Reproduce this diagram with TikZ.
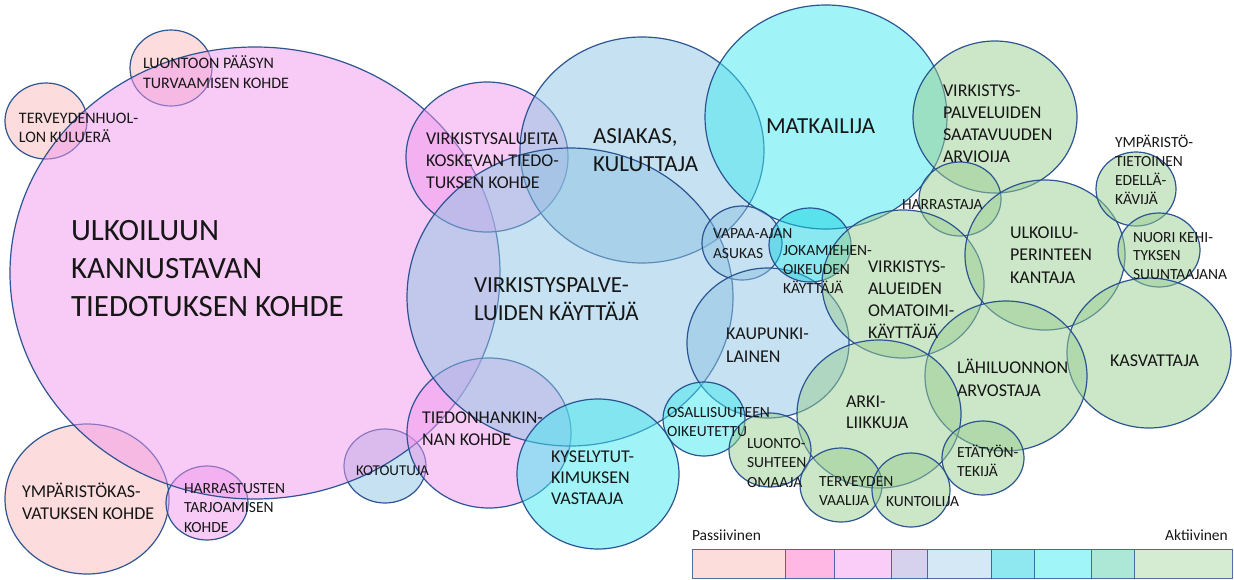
\documentclass[tikz,border=0pt]{standalone}
\usepackage{fontspec}
\setmainfont{Carlito}
\definecolor{edgeblue}{RGB}{36,78,142}
\definecolor{txt}{RGB}{22,22,22}
\definecolor{pp}{RGB}{249,185,185}
\definecolor{mg}{RGB}{241,151,237}
\definecolor{lb}{RGB}{141,195,227}
\definecolor{cl}{RGB}{65,233,239}
\definecolor{cm}{RGB}{21,209,225}
\definecolor{gr}{RGB}{153,205,145}
\definecolor{lg1}{HTML}{FDDCDC}
\definecolor{lg2}{HTML}{FFB8E3}
\definecolor{lg3}{HTML}{F9CDF7}
\definecolor{lg4}{HTML}{D6D2EE}
\definecolor{lg5}{HTML}{D4E8F5}
\definecolor{lg6}{HTML}{8FE7F0}
\definecolor{lg7}{HTML}{9FF5F7}
\definecolor{lg8}{HTML}{ADE7D5}
\definecolor{lg9}{HTML}{D5EBD2}
\newcommand\lns[1]{\begin{tabular}[t]{@{}l@{}}#1\end{tabular}}
\newcommand\fs[2]{\fontsize{#1}{#2}\selectfont}
\tikzset{
  bub/.style={draw=edgeblue, draw opacity=0.95, line width=1.2pt, fill opacity=0.5},
  lbl/.style={anchor=base west, inner sep=0pt, outer sep=0pt, text=txt},
  seg/.style={draw=edgeblue, draw opacity=0.8, line width=1pt}
}
\begin{document}
\begin{tikzpicture}[x=1pt,y=-1pt]
\useasboundingbox (0,0) rectangle (1234,579);
% ---- circles (drawn as ellipses) ----
\path[bub, fill=pp] (46,121) ellipse [x radius=41pt, y radius=38pt];
\path[bub, fill=pp] (171,68) ellipse [x radius=41pt, y radius=38pt];
\path[bub, fill=pp] (87,499) ellipse [x radius=82pt, y radius=75pt];
\path[bub, fill=lb] (385,466) ellipse [x radius=41pt, y radius=37pt];
\path[bub, fill=mg] (207,503) ellipse [x radius=41pt, y radius=37pt];
\path[bub, fill=mg] (255,273) ellipse [x radius=245pt, y radius=226pt];
\path[bub, fill=mg] (487,157) ellipse [x radius=81pt, y radius=75pt];
\path[bub, fill=mg] (489,433) ellipse [x radius=82pt, y radius=75pt];
\path[bub, fill=lb] (642,150) ellipse [x radius=122pt, y radius=113pt];
\path[bub, fill=lb] (570,297) ellipse [x radius=163pt, y radius=149pt];
\path[bub, fill=cl] (598,474) ellipse [x radius=81pt, y radius=75pt];
\path[bub, fill=cl] (826,117) ellipse [x radius=121pt, y radius=112pt];
\path[bub, fill=lb] (742,243) ellipse [x radius=40pt, y radius=37pt];
\path[bub, fill=lb] (768,343) ellipse [x radius=81pt, y radius=75pt];
\path[bub, fill=cl] (704,419) ellipse [x radius=41pt, y radius=37pt];
\path[bub, fill=cm] (810,245) ellipse [x radius=41pt, y radius=37pt];
\path[bub, fill=gr] (995,117) ellipse [x radius=82pt, y radius=76pt];
\path[bub, fill=gr] (960,199) ellipse [x radius=41pt, y radius=37pt];
\path[bub, fill=gr] (903,284) ellipse [x radius=81pt, y radius=74pt];
\path[bub, fill=gr] (1045,255) ellipse [x radius=80pt, y radius=75pt];
\path[bub, fill=gr] (1136,189) ellipse [x radius=40pt, y radius=37pt];
\path[bub, fill=gr] (1159,250) ellipse [x radius=41pt, y radius=37pt];
\path[bub, fill=gr] (1149,353) ellipse [x radius=82pt, y radius=75pt];
\path[bub, fill=gr] (1006,376) ellipse [x radius=81pt, y radius=75pt];
\path[bub, fill=gr] (879,414) ellipse [x radius=82pt, y radius=74pt];
\path[bub, fill=gr] (770,450) ellipse [x radius=41pt, y radius=37pt];
\path[bub, fill=gr] (983,458) ellipse [x radius=41pt, y radius=37pt];
\path[bub, fill=gr] (841,485) ellipse [x radius=41pt, y radius=37pt];
\path[bub, fill=gr] (911,490) ellipse [x radius=39pt, y radius=37pt];
% ---- labels ----
\node[lbl] (ulk) at (71,240) {\fs{31}{38}\lns{ULKOILUUN\\KANNUSTAVAN\\TIEDOTUKSEN KOHDE}};
\node[lbl] (terv) at (19,123) {\fs{16}{19}\lns{TERVEYDENHUOL-\\LON KULUERÄ}};
\node[lbl] (luon) at (143,68) {\fs{16}{20}\lns{LUONTOON PÄÄSYN\\TURVAAMISEN KOHDE}};
\node[lbl] (virkal) at (426,144) {\fs{18}{22}\lns{VIRKISTYSALUEITA\\KOSKEVAN TIEDO-\\TUKSEN KOHDE}};
\node[lbl] (asiak) at (593,143) {\fs{23}{28}\lns{ASIAKAS,\\KULUTTAJA}};
\node[lbl] (matk) at (766,133) {\fs{23}{28}MATKAILIJA};
\node[lbl] (saat) at (943,96) {\fs{18}{22}\lns{VIRKISTYS-\\PALVELUIDEN\\SAATAVUUDEN\\ARVIOIJA}};
\node[lbl] (harra) at (902,209) {\fs{15.5}{19}HARRASTAJA};
\node[lbl] (ulkper) at (1010,238) {\fs{18}{22.5}\lns{ULKOILU-\\PERINTEEN\\KANTAJA}};
\node[lbl] (ymptiet) at (1115,147) {\fs{15.5}{19}\lns{YMPÄRISTÖ-\\TIETOINEN\\EDELLÄ-\\KÄVIJÄ}};
\node[lbl] (nuori) at (1133,242) {\fs{15.5}{18.5}\lns{NUORI KEHI-\\TYKSEN\\SUUNTAAJANA}};
\node[lbl] (kasv) at (1110,366) {\fs{18}{22}KASVATTAJA};
\node[lbl] (omat) at (868,272) {\fs{18}{22}\lns{VIRKISTYS-\\ALUEIDEN\\OMATOIMI-\\KÄYTTÄJÄ}};
\node[lbl] (joka) at (783,255) {\fs{15.5}{19}\lns{JOKAMIEHEN-\\OIKEUDEN\\KÄYTTÄJÄ}};
\node[lbl] (vapaa) at (713,238) {\fs{15.5}{20}\lns{VAPAA-AJAN\\ASUKAS}};
\node[lbl] (kaup) at (726,339) {\fs{18}{23}\lns{KAUPUNKI-\\LAINEN}};
\node[lbl] (lahi) at (957,373) {\fs{18}{23}\lns{LÄHILUONNON\\ARVOSTAJA}};
\node[lbl] (arki) at (846,407) {\fs{18}{21}\lns{ARKI-\\LIIKKUJA}};
\node[lbl] (etat) at (957,457) {\fs{15.5}{19}\lns{ETÄTYÖN-\\TEKIJÄ}};
\node[lbl] (tervv) at (819,486) {\fs{15.5}{19}\lns{TERVEYDEN\\VAALIJA}};
\node[lbl] (kunt) at (886,506) {\fs{15.5}{19}KUNTOILIJA};
\node[lbl] (luontos) at (747,448) {\fs{15.5}{19.5}\lns{LUONTO-\\SUHTEEN\\OMAAJA}};
\node[lbl] (osall) at (667,417) {\fs{15.5}{19}\lns{OSALLISUUTEEN\\OIKEUTETTU}};
\node[lbl] (kysely) at (551,462) {\fs{18}{21}\lns{KYSELYTUT-\\KIMUKSEN\\VASTAAJA}};
\node[lbl] (tiedh) at (422,423) {\fs{18}{22}\lns{TIEDONHANKIN-\\NAN KOHDE}};
\node[lbl] (kotou) at (356,475) {\fs{15}{18}KOTOUTUJA};
\node[lbl] (ympk) at (22,497) {\fs{18}{22}\lns{YMPÄRISTÖKAS-\\VATUKSEN KOHDE}};
\node[lbl] (harrt) at (184,493) {\fs{15.5}{19.5}\lns{HARRASTUSTEN\\TARJOAMISEN\\KOHDE}};
\node[lbl] (vpk) at (474,292) {\fs{23}{28}\lns{VIRKISTYSPALVE-\\LUIDEN KÄYTTÄJÄ}};
% ---- legend ----
\node[lbl] (pass) at (692,540) {\fs{15.5}{19}Passiivinen};
\node[anchor=base east, inner sep=0pt, text=txt] (akt) at (1228,540) {\fs{15.5}{19}Aktiivinen};
\path[seg, fill=lg1] (692,549) rectangle (785,578);
\path[seg, fill=lg2] (785,549) rectangle (834,578);
\path[seg, fill=lg3] (834,549) rectangle (891,578);
\path[seg, fill=lg4] (891,549) rectangle (927,578);
\path[seg, fill=lg5] (927,549) rectangle (991,578);
\path[seg, fill=lg6] (991,549) rectangle (1034,578);
\path[seg, fill=lg7] (1034,549) rectangle (1091,578);
\path[seg, fill=lg8] (1091,549) rectangle (1134,578);
\path[seg, fill=lg9] (1134,549) rectangle (1232,578);
\end{tikzpicture}
\end{document}
